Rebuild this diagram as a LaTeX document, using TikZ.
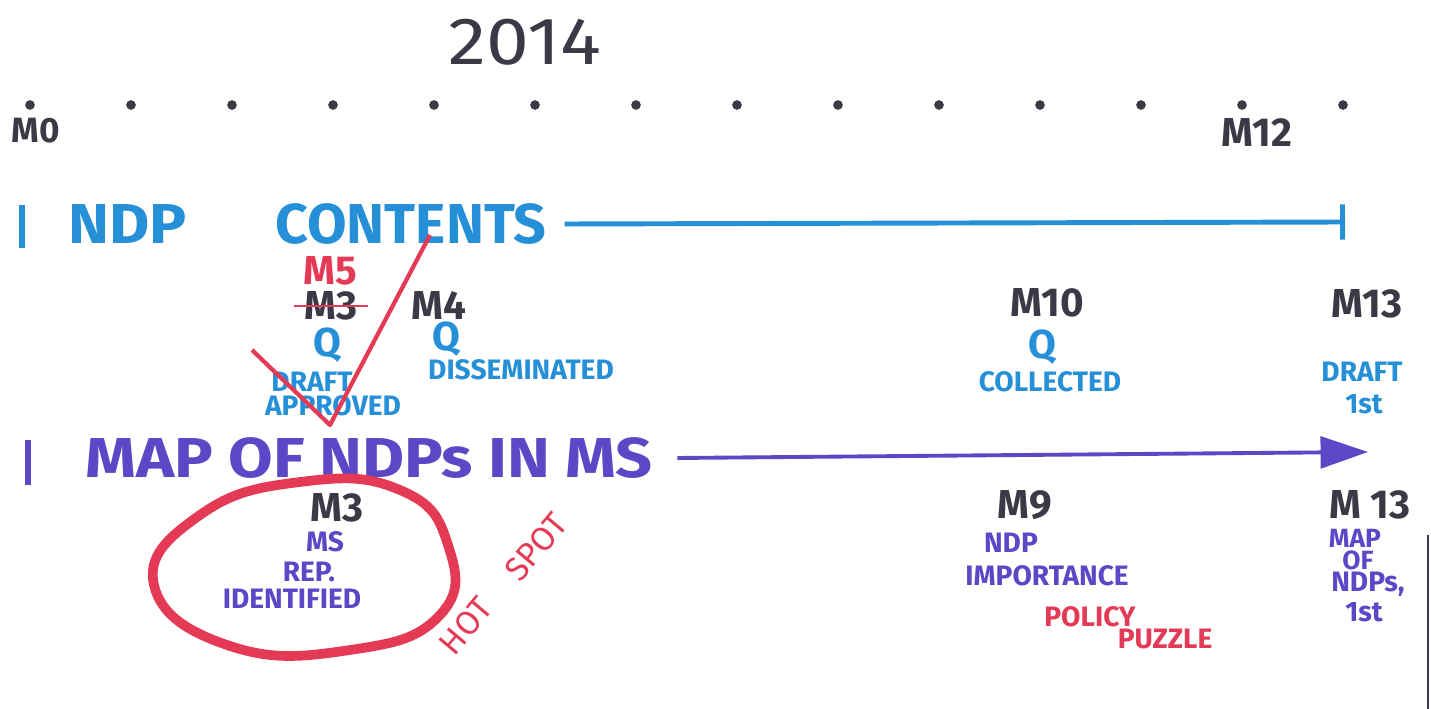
\documentclass[tikz,border=0pt]{standalone}
\usepackage[svgnames]{xcolor}
\usepackage{fontspec}
\setmainfont{Fira Sans}
\usepackage{tikz}
\usetikzlibrary{
  arrows.meta}

\definecolor{penblue}{HTML}{2590D8}
\definecolor{penviolet}{HTML}{5A48C6}
\definecolor{penred}{HTML}{E43A55}
\definecolor{penink}{HTML}{3A3A46}

\tikzset{
  bigtext/.style={font=\fontsize{32}{34}\selectfont\bfseries},
  midtext/.style={font=\fontsize{23}{25}\selectfont\bfseries},
  smalltext/.style={font=\fontsize{16}{17}\selectfont\bfseries},
  monthdot/.style={circle,fill=penink,inner sep=0pt,minimum size=5.5pt},
  ink/.style={text=penink},
  blue/.style={text=penblue},
  violet/.style={text=penviolet},
  red/.style={text=penred}}

\begin{document}
\begin{tikzpicture}[x=0.02cm,y=-0.02cm,inner sep=0pt]
\useasboundingbox[fill=white] (0,0) rectangle (1431,709);
\node[ink,font=\fontsize{38}{40}\selectfont,xscale=1.15] (year) at (525,42) {2014};
\foreach \i in {0,...,13}
  \node[monthdot] (m\i) at ({30+101*\i},105) {};
\node[midtext,ink,font=\fontsize{20}{22}\selectfont\bfseries] (mzero) at (36,131) {M0};
\node[midtext,ink] (mtwelve) at (1257,133) {M12};

\draw[penblue,line width=3pt] (22,205) -- (22,248);
\node[bigtext,blue,anchor=west,xscale=1.1] (ndp) at (68,224) {NDP};
\node[bigtext,blue,anchor=west,xscale=1.02] (contents) at (275,224) {CONTENTS};
\coordinate (cend) at (1345,222);
\draw[penblue,line width=2.8pt,-{Bar[width=20pt]}] ([xshift=10pt]contents.east) -- (cend);

\node[midtext,red] (mfive) at (330,271) {M5};
\node[midtext,ink] (mthree) at (331,306) {M3};
\draw[penred,line width=1.6pt] ([xshift=-6pt]mthree.west) -- ([xshift=6pt]mthree.east);
\node[midtext,ink] (mfour) at (439,306) {M4};
\node[midtext,blue] (qa) at (327,345) {Q};
\node[midtext,blue] (qb) at (446,339) {Q};
\node[smalltext,blue] (draft) at (312,382) {DRAFT};
\node[smalltext,blue] (approved) at (333,406) {APPROVED};
\node[smalltext,blue] (dissem) at (521,370) {DISSEMINATED};
\draw[penred,line width=2.4pt,line join=round] (252,350) -- (330,425) -- (430,235);

\node[midtext,ink] (mten) at (1047,303) {M10};
\node[midtext,blue] (qc) at (1042,347) {Q};
\node[smalltext,blue] (collected) at (1050,382) {COLLECTED};
\node[midtext,ink] (mthirteen) at (1367,304) {M13};
\node[smalltext,blue] (draftb) at (1362,372) {DRAFT};
\node[smalltext,blue] (first) at (1364,404) {1st};

\draw[penviolet,line width=3pt] (28,440) -- (28,485);
\node[bigtext,violet,anchor=west,xscale=1.15] (mapms) at (85,458) {MAP OF NDPs IN MS};
\coordinate (mend) at (1368,452);
\draw[penviolet,line width=2.2pt,-{Triangle[length=27pt,width=18pt]}] ([xshift=14pt]mapms.east) -- (mend);

\draw[penred,line width=5.5pt] plot[smooth cycle,tension=0.8] coordinates {
  (154,585) (200,515) (300,482) (400,490) (448,545) (440,615) (350,650) (230,646)};
\node[midtext,ink] (mthreeb) at (337,508) {M3};
\node[smalltext,violet] (ms) at (325,542) {MS};
\node[smalltext,violet] (rep) at (309,572) {REP.};
\node[smalltext,violet] (ident) at (292,599) {IDENTIFIED};
\node[smalltext,red,font=\fontsize{19}{20}\selectfont,rotate=50] (hot) at (466,626) {HOT};
\node[smalltext,red,font=\fontsize{19}{20}\selectfont,rotate=50] (spot) at (536,547) {SPOT};

\node[midtext,ink] (mnine) at (1025,505) {M9};
\node[smalltext,violet] (ndpb) at (1011,543) {NDP};
\node[smalltext,violet] (importance) at (1047,576) {IMPORTANCE};
\node[smalltext,red] (policy) at (1090,617) {POLICY};
\node[smalltext,red] (puzzle) at (1165,639) {PUZZLE};
\node[midtext,ink] (mthirteenb) at (1370,505) {M 13};
\node[smalltext,violet,font=\fontsize{15}{16}\selectfont\bfseries] (mapb) at (1355,538) {MAP};
\node[smalltext,violet,font=\fontsize{15}{16}\selectfont\bfseries] (ofb) at (1358,560) {OF};
\node[smalltext,violet] (ndps) at (1368,584) {NDPs,};
\node[smalltext,violet] (firstb) at (1364,612) {1st};

\draw[penink,line width=1.2pt] (1428,535) -- (1428,709);
\end{tikzpicture}
\end{document}
